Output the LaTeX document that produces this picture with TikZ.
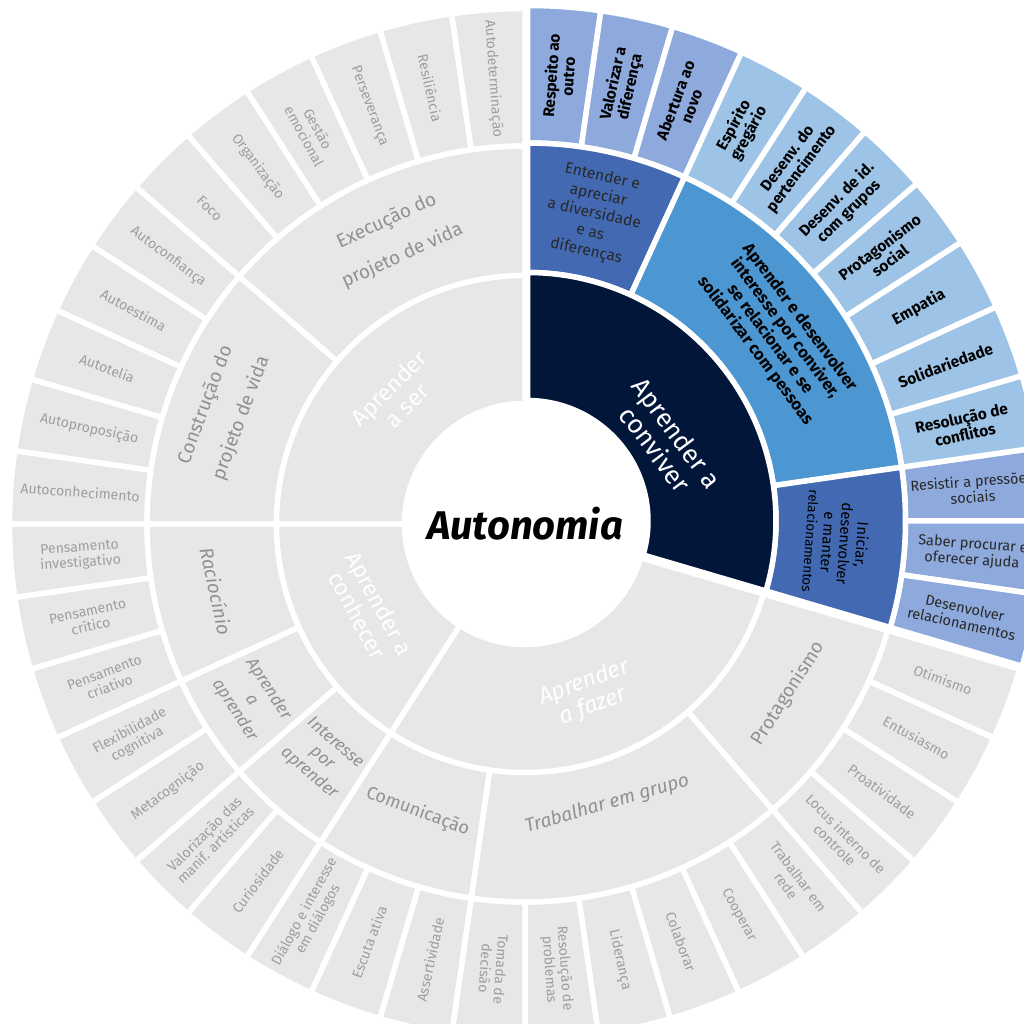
\documentclass[tikz,border=0pt]{standalone}
\usepackage{fontspec}
\setmainfont{Fira Sans}
\definecolor{gr}{RGB}{230,231,232}
\definecolor{navy}{RGB}{2,22,58}
\definecolor{midblue}{RGB}{66,105,178}
\definecolor{skyblue}{RGB}{76,151,210}
\definecolor{lbA}{RGB}{142,169,219}
\definecolor{lbB}{RGB}{157,195,230}
\definecolor{lt}{RGB}{158,158,158}
\definecolor{mt}{RGB}{145,145,145}
\definecolor{dk}{RGB}{40,40,40}
\newcommand\Sector[5]{\filldraw[sec,fill=#1] (#2:#4) arc[start angle=#2,end angle=#3,radius=#4] -- (#3:#5) arc[start angle=#3,end angle=#2,radius=#5] -- cycle;}
\def\Ang{8.181818}
\tikzset{
 sec/.style={draw=white, line width=5.5pt, line join=round},
 lf/.style={font=\fontsize{14}{15.5}\selectfont, text=lt, align=center, inner sep=0pt},
 lfb/.style={font=\bfseries\fontsize{15.5}{17}\selectfont, text=black, align=center, inner sep=0pt},
 lfd/.style={font=\fontsize{14.5}{16}\selectfont, text=dk, align=center, inner sep=0pt},
 mid/.style={font=\fontsize{19}{38}\selectfont, text=mt, align=center, inner sep=0pt},
 midi/.style={font=\itshape\fontsize{17}{20}\selectfont, text=mt, align=center, inner sep=0pt},
 inn/.style={font=\fontsize{23}{25}\selectfont, text=white, align=center, inner sep=0pt},
}
\begin{document}
\begin{tikzpicture}[x=1pt,y=1pt]
\useasboundingbox (-525,-500) rectangle (499,524);
\clip (-525,-500) rectangle (499,524);
\fill[white] (-525,-500) rectangle (499,524);
% ---------- grey part: leaves
\foreach \k in {13,...,43}{%
  \pgfmathsetmacro\angA{90-\k*\Ang}\pgfmathsetmacro\angB{90-(\k+1)*\Ang}%
  \Sector{gr}{\angA}{\angB}{378}{515.5}}
\foreach \k/\lbl in {13/{Otimismo},14/{Entusiasmo},15/{Proatividade},16/{Locus interno de\\controle},17/{Trabalhar em\\rede},18/{Cooperar},19/{Colaborar},20/{Liderança},21/{Resolução de\\problemas},22/{Tomada de\\decisão},23/{Assertividade},24/{Escuta ativa},25/{Diálogo e interesse\\em diálogos},26/{Curiosidade},27/{Valorização das\\manif. artísticas},28/{Metacognição},29/{Flexibilidade\\cognitiva},30/{Pensamento\\criativo},31/{Pensamento\\crítico},32/{Pensamento\\investigativo},33/{Autoconhecimento},34/{Autoproposição},35/{Autotelia},36/{Autoestima},37/{Autoconfiança},38/{Foco},39/{Organização},40/{Gestão\\emocional},41/{Perseverança},42/{Resiliência},43/{Autodeterminação}}{%
  \pgfmathsetmacro\angM{90-(\k+0.5)*\Ang}%
  \pgfmathsetmacro\rot{\angM<-95 ? \angM+180 : \angM}%
  \node[lf, rotate=\rot] (leaf\k) at (\angM:446) {\lbl};}
% ---------- grey part: middle ring
\Sector{gr}{-16.3636}{-49.0909}{248.5}{378}
\Sector{gr}{-49.0909}{-98.1818}{248.5}{378}
\Sector{gr}{-98.1818}{-122.7273}{248.5}{378}
\Sector{gr}{-122.7273}{-139.0909}{248.5}{378}
\Sector{gr}{-139.0909}{-155.4545}{248.5}{378}
\Sector{gr}{-155.4545}{-180}{248.5}{378}
\Sector{gr}{-180}{-220.9091}{248.5}{378}
\Sector{gr}{-220.9091}{-270}{248.5}{378}
\node[mid, rotate=57.27] (protag) at (-32.73:313) {Protagonismo};
\node[midi, font=\itshape\fontsize{19}{22}\selectfont, rotate=16.36] (trab) at (-73.64:292) {Trabalhar em grupo};
\node[mid, font=\fontsize{18}{20}\selectfont, rotate=-20.45] (comun) at (-110.45:307) {Comunicação};
\node[midi, rotate=-40.91] (inter) at (-130.91:310) {Interesse\\por\\aprender};
\node[midi, rotate=-57.27] (aprap) at (-147.27:325) {Aprender\\a\\aprender};
\node[midi, font=\itshape\fontsize{19}{22}\selectfont, rotate=-77.73] (racio) at (-167.73:316) {Raciocínio};
\node[mid, rotate=69.55] (constr) at (159.55:322) {Construção do\\projeto de vida};
\node[mid, rotate=24.55] (exec) at (114.55:314) {Execução do\\projeto de vida};
% ---------- grey part: inner ring
\Sector{gr}{-16.3636}{-122.7273}{120.5}{248.5}
\Sector{gr}{-122.7273}{-180}{120.5}{248.5}
\Sector{gr}{-180}{-270}{120.5}{248.5}
\node[inn, font=\itshape\fontsize{23}{25}\selectfont, rotate=20.45] (fazer) at (-69.55:182) {Aprender\\a fazer};
\node[inn, rotate=-61.36] (conhecer) at (-151.36:178) {Aprender a\\conhecer};
\node[inn, rotate=45] (ser) at (135:180) {Aprender\\a ser};
% ---------- conviver (slightly exploded)
\begin{scope}[shift={(2.5,3)}]
\foreach \k in {0,1,2,10,11,12}{%
  \pgfmathsetmacro\angA{90-\k*\Ang}\pgfmathsetmacro\angB{90-(\k+1)*\Ang}%
  \Sector{lbA}{\angA}{\angB}{378}{515.5}}
\foreach \k in {3,...,9}{%
  \pgfmathsetmacro\angA{90-\k*\Ang}\pgfmathsetmacro\angB{90-(\k+1)*\Ang}%
  \Sector{lbB}{\angA}{\angB}{378}{515.5}}
\foreach \k/\lbl/\sty in {0/{Respeito ao\\outro}/lfb,1/{Valorizar a\\diferença}/lfb,2/{Abertura ao\\novo}/lfb,3/{Espírito\\gregário}/lfb,4/{Desenv. do\\pertencimento}/lfb,5/{Desenv. de id.\\com grupos}/lfb,6/{Protagonismo\\social}/lfb,7/{Empatia}/lfb,8/{Solidariedade}/lfb,9/{Resolução de\\conflitos}/lfb,10/{Resistir a pressões\\sociais}/lfd,11/{Saber procurar e\\oferecer ajuda}/lfd,12/{Desenvolver\\relacionamentos}/lfd}{%
  \pgfmathsetmacro\angM{90-(\k+0.5)*\Ang}%
  \node[\sty, rotate=\angM] (leaf\k) at (\angM:446) {\lbl};}
\Sector{midblue}{90}{65.4545}{248.5}{378}
\Sector{skyblue}{65.4545}{8.1818}{248.5}{378}
\Sector{midblue}{8.1818}{-16.3636}{248.5}{378}
\node[lfd, font=\fontsize{15.5}{19}\selectfont, rotate=-12.27] (enten) at (77.73:314) {Entender e\\apreciar\\a diversidade\\e as\\diferenças};
\node[lfb, font=\bfseries\fontsize{16.5}{18.5}\selectfont, rotate=-53.18] (aprdes) at (36.82:312) {Aprender e desenvolver\\interesse por conviver,\\se relacionar e se\\solidarizar com pessoas};
\node[lfd, font=\fontsize{15}{17}\selectfont, text=black, rotate=-94.09] (inic) at (-4.09:310) {Iniciar,\\desenvolver\\e manter\\{\fontsize{13.5}{16}\selectfont relacionamentos}};
\Sector{navy}{90}{-16.3636}{120.5}{248.5}
\node[inn, font=\fontsize{26}{27}\selectfont, rotate=-53.18] (conv) at (30:160) {Aprender a\\conviver};
\end{scope}
% ---------- centre
\fill[white] (0,0) circle[radius=120.5];
\node[font=\bfseries\itshape\fontsize{40}{44}\selectfont, text=black, inner sep=0pt] (auto) at (0,0) {Autonomia};
\end{tikzpicture}
\end{document}
